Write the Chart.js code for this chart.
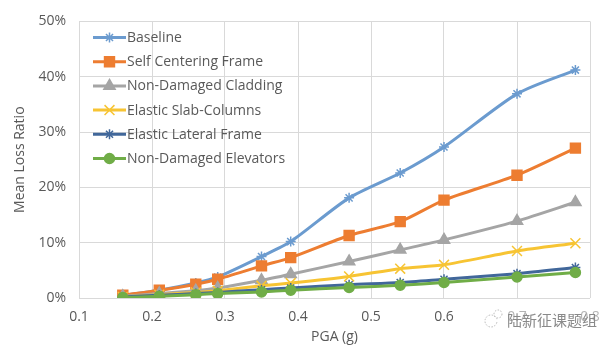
<!DOCTYPE html>
<html>
<head>
<meta charset="utf-8">
<script src="https://cdn.jsdelivr.net/npm/chart.js@4/dist/chart.umd.min.js"></script>
<style>
  html, body { margin: 0; padding: 0; background: #ffffff; }
  #wrap { position: relative; width: 616px; height: 351px; }
</style>
</head>
<body>
<div id="wrap"><canvas id="c" width="616" height="351"></canvas></div>
<script>
// ---- Data ----
const pga = [0.16, 0.21, 0.26, 0.29, 0.35, 0.39, 0.47, 0.54, 0.60, 0.70, 0.78];
const seriesNames = ["Baseline", "Self Centering Frame", "Non-Damaged Cladding",
                     "Elastic Slab-Columns", "Elastic Lateral Frame", "Non-Damaged Elevators"];
const baseline          = [0.005, 0.014, 0.027, 0.038, 0.075, 0.102, 0.181, 0.226, 0.273, 0.369, 0.412];
const selfCentering     = [0.005, 0.014, 0.025, 0.034, 0.058, 0.073, 0.113, 0.138, 0.177, 0.222, 0.271];
const nonDamagedClad    = [0.003, 0.008, 0.013, 0.018, 0.032, 0.043, 0.066, 0.087, 0.105, 0.139, 0.173];
const elasticSlabCol    = [0.002, 0.006, 0.010, 0.013, 0.022, 0.027, 0.039, 0.053, 0.060, 0.085, 0.099];
const elasticLateral    = [0.002, 0.005, 0.008, 0.010, 0.015, 0.018, 0.024, 0.028, 0.034, 0.044, 0.055];
const nonDamagedElev    = [0.001, 0.003, 0.006, 0.008, 0.011, 0.014, 0.019, 0.023, 0.028, 0.038, 0.046];
const xTicks = [0.1, 0.2, 0.3, 0.4, 0.5, 0.6, 0.7, 0.8];
const yTicks = [0, 0.1, 0.2, 0.3, 0.4, 0.5];
const xTitle = "PGA (g)";
const yTitle = "Mean Loss Ratio";
const watermark = "陆新征课题组";

// ---- Styles ----
const styles = [
  { color: "#6B9BCF", point: "star",     r: 5 },
  { color: "#ED7D31", point: "rect",     r: 7 },
  { color: "#A5A5A5", point: "triangle", r: 6.5 },
  { color: "#F7C433", point: "crossRot", r: 7 },
  { color: "#41679A", point: "star",     r: 5 },
  { color: "#70AD47", point: "circle",   r: 5 }
];
const allSeries = [baseline, selfCentering, nonDamagedClad, elasticSlabCol, elasticLateral, nonDamagedElev];

const datasets = allSeries.map((vals, i) => ({
  label: seriesNames[i],
  data: vals.map((v, j) => ({ x: pga[j], y: v })),
  borderColor: styles[i].color,
  backgroundColor: styles[i].color,
  pointBorderColor: styles[i].color,
  pointBackgroundColor: styles[i].color,
  pointStyle: styles[i].point,
  pointRadius: styles[i].r,
  pointBorderWidth: 1.5,
  borderWidth: 3,
  tension: 0.25,
  fill: false
})).reverse();

const FONT = "'Open Sans', 'Liberation Sans', sans-serif";
const TEXT = "#595959";

const LEFT = 79, RIGHT = 590, TOP = 20, BOTTOM = 298, W = 616, H = 351;

const decor = {
  id: 'decor',
  afterDatasetsDraw(chart) {
    const ctx = chart.ctx;
    ctx.save();
    const ds = chart.data.datasets.slice().reverse();
    ctx.font = "14px " + FONT;
    ctx.textBaseline = 'middle';
    ctx.textAlign = 'left';
    const x0 = 93, x1 = 126, y0 = 37.5, dy = 24.2;
    ds.forEach((d, i) => {
      const y = y0 + i * dy;
      ctx.strokeStyle = d.borderColor;
      ctx.lineWidth = 3;
      ctx.beginPath(); ctx.moveTo(x0, y); ctx.lineTo(x1, y); ctx.stroke();
      ctx.lineWidth = 1.5;
      ctx.fillStyle = d.backgroundColor;
      Chart.helpers.drawPoint(ctx, { pointStyle: d.pointStyle, radius: d.pointRadius, borderWidth: 1.5 }, (x0 + x1) / 2, y);
      ctx.fillStyle = TEXT;
      ctx.fillText(d.label, 127, y + 0.5);
    });
    ctx.restore();
  },
  afterDraw(chart) {
    const ctx = chart.ctx;
    const ca = chart.chartArea;
    ctx.save();
    ctx.fillStyle = TEXT;
    ctx.font = "14px " + FONT;
    ctx.textAlign = 'center';
    ctx.textBaseline = 'middle';
    ctx.fillText(xTitle, (ca.left + ca.right) / 2, 337);
    ctx.translate(20, (ca.top + ca.bottom) / 2);
    ctx.rotate(-Math.PI / 2);
    ctx.fillText(yTitle, 0, 0);
    ctx.restore();
    // watermark
    ctx.save();
    ctx.font = "15px 'Noto Sans CJK SC', sans-serif";
    ctx.textAlign = 'left';
    ctx.textBaseline = 'middle';
    ctx.fillStyle = "rgba(255,255,255,0.55)";
    ctx.fillRect(505, 310, 96, 20);
    ctx.fillStyle = "#8a8a8a";
    ctx.fillText(watermark, 507, 320);
    ctx.strokeStyle = "#b5b5b5";
    ctx.lineWidth = 1;
    ctx.setLineDash([1.5, 1.5]);
    ctx.beginPath(); ctx.arc(491, 321, 6, 0.2, Math.PI * 1.9); ctx.stroke();
    ctx.beginPath(); ctx.arc(498, 314, 4, 0, Math.PI * 2); ctx.stroke();
    ctx.restore();
  }
};

new Chart(document.getElementById('c'), {
  type: 'line',
  data: { datasets },
  plugins: [decor],
  options: {
    responsive: false,
    animation: false,
    devicePixelRatio: 1,
    layout: { padding: { top: TOP, right: W - RIGHT, left: 0, bottom: 0 } },
    plugins: { legend: { display: false }, tooltip: { enabled: false } },
    scales: {
      x: {
        type: 'linear', min: 0.1, max: 0.8,
        afterBuildTicks(s) { s.ticks = xTicks.map(v => ({ value: v })); },
        afterFit(s) { s.height = H - BOTTOM; },
        grid: { color: "#D9D9D9", lineWidth: 1, drawTicks: false },
        border: { display: false },
        ticks: { color: TEXT, font: { family: FONT, size: 14 }, padding: 11,
                 callback: v => v.toFixed(1) , maxRotation: 0}
      },
      y: {
        type: 'linear', min: 0, max: 0.5,
        afterBuildTicks(s) { s.ticks = yTicks.map(v => ({ value: v })); },
        afterFit(s) { s.width = LEFT; },
        grid: { color: "#D9D9D9", lineWidth: 1, drawTicks: false },
        border: { display: false },
        ticks: { color: TEXT, font: { family: FONT, size: 14 }, padding: 13,
                 callback: v => Math.round(v * 100) + "%" }
      }
    }
  }
});
</script>
</body>
</html>
